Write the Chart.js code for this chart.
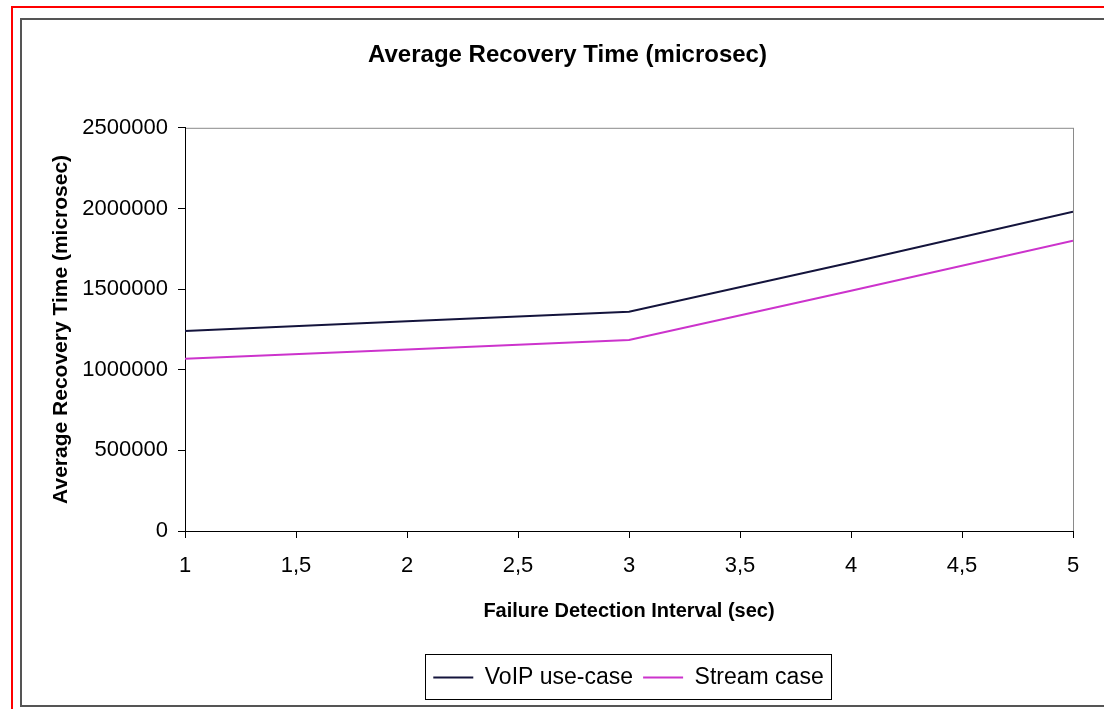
<!DOCTYPE html>
<html>
<head>
<meta charset="utf-8">
<title>Average Recovery Time</title>
<script src="https://cdn.jsdelivr.net/npm/chart.js@4/dist/chart.umd.min.js"></script>
<style>
    html, body { margin: 0; padding: 0; background: #fff; overflow: hidden; }
    #page { position: relative; width: 1104px; height: 709px; }
    #red-frame {
        position: absolute; left: 11px; top: 6px; width: 1110px; height: 720px;
        border: 2px solid #ff0000; box-sizing: border-box;
    }
    #chart-frame {
        position: absolute; left: 20px; top: 18px; width: 1110px; height: 689px;
        border: 2px solid #555; box-sizing: border-box;
    }
    #chart-wrap { position: absolute; left: 0; top: 0; width: 1104px; height: 709px; }
</style>
</head>
<body>
<div id="page">
    <div id="red-frame"></div>
    <div id="chart-frame"></div>
    <div id="chart-wrap"><canvas id="recovery-chart" width="1104" height="709"></canvas></div>
</div>
<script>
const intervals = [1, 2, 3, 4, 5];
const voipTimes = [1240000, 1300000, 1360000, 1665000, 1980000];
const streamTimes = [1068000, 1125000, 1185000, 1490000, 1800000];

const seriesLabels = ['VoIP use-case', 'Stream case'];
const chartTitle = 'Average Recovery Time (microsec)';
const xTitle = 'Failure Detection Interval (sec)';
const yTitle = 'Average Recovery Time (microsec)';

const fontFamily = '"Liberation Sans", Arial, sans-serif';

function toPoints(xs, ys) {
    return xs.map((x, i) => ({ x: x, y: ys[i] }));
}

// gray frame round the plot area, drawn before the axes so the black axis lines sit on top
const plotFrame = {
    id: 'plotFrame',
    beforeDraw(chart) {
        const { ctx, chartArea } = chart;
        ctx.save();
        ctx.strokeStyle = '#8a8a8a';
        ctx.lineWidth = 1;
        ctx.strokeRect(chartArea.left + 0.5, chartArea.top + 0.5,
            chartArea.right - chartArea.left, chartArea.bottom - chartArea.top);
        ctx.restore();
    }
};

// Excel centres title and legend a bit right of the canvas middle
const shiftBoxes = {
    id: 'shiftBoxes',
    afterLayout(chart) {
        if (chart.titleBlock) {
            chart.titleBlock.left += 16;
            chart.titleBlock.right += 16;
        }
        if (chart.legend) {
            chart.legend.left += 77;
            chart.legend.right += 77;
        }
    }
};

// box round the legend items, like the Excel legend
const legendBox = {
    id: 'legendBox',
    afterDraw(chart) {
        const boxes = chart.legend && chart.legend.legendHitBoxes;
        if (!boxes || !boxes.length) return;
        let left = Infinity, right = -Infinity, top = Infinity, bottom = -Infinity;
        boxes.forEach(b => {
            left = Math.min(left, b.left);
            right = Math.max(right, b.left + b.width);
            top = Math.min(top, b.top);
            bottom = Math.max(bottom, b.top + b.height);
        });
        const ctx = chart.ctx;
        ctx.save();
        ctx.strokeStyle = '#000';
        ctx.lineWidth = 1;
        ctx.strokeRect(Math.round(left - 8) + 0.5, Math.round(top - 12) + 0.5,
            Math.round(right - left + 16), Math.round(bottom - top + 22));
        ctx.restore();
    }
};

const ctx = document.getElementById('recovery-chart').getContext('2d');

new Chart(ctx, {
    type: 'line',
    data: {
        datasets: [
            {
                label: seriesLabels[0],
                data: toPoints(intervals, voipTimes),
                borderColor: '#14143c',
                backgroundColor: '#14143c',
                borderWidth: 2,
                pointRadius: 0,
                tension: 0,
                fill: false,
            },
            {
                label: seriesLabels[1],
                data: toPoints(intervals, streamTimes),
                borderColor: '#cc33cc',
                backgroundColor: '#cc33cc',
                borderWidth: 2,
                pointRadius: 0,
                tension: 0,
                fill: false,
            },
        ],
    },
    options: {
        responsive: false,
        animation: false,
        layout: {
            padding: { left: 30, right: 31, top: 0, bottom: 10 },
        },
        plugins: {
            title: {
                display: true,
                text: chartTitle,
                color: '#000',
                font: { family: fontFamily, size: 24, weight: 'bold' },
                padding: { top: 41, bottom: 58 },
            },
            legend: {
                position: 'bottom',
                labels: {
                    color: '#000',
                    font: { family: fontFamily, size: 23 },
                    usePointStyle: true,
                    pointStyle: 'line',
                    pointStyleWidth: 40,
                    padding: 10,
                },
            },
            tooltip: { enabled: false },
        },
        scales: {
            x: {
                type: 'linear',
                min: 1,
                max: 5,
                afterFit: scale => { scale.height = 125; },
                border: { display: true, color: '#000', width: 1 },
                grid: { drawOnChartArea: false, drawTicks: true, tickLength: 7, color: '#000' },
                ticks: {
                    stepSize: 0.5,
                    padding: 15,
                    color: '#000',
                    font: { family: fontFamily, size: 22 },
                    callback: v => String(v).replace('.', ','),
                },
                title: {
                    display: true,
                    text: xTitle,
                    color: '#000',
                    font: { family: fontFamily, size: 20, weight: 'bold' },
                    padding: { top: 0, bottom: 33 },
                },
            },
            y: {
                min: 0,
                max: 2500000,
                afterFit: scale => { scale.width = 155; },
                border: { display: true, color: '#000', width: 1 },
                grid: { drawOnChartArea: false, drawTicks: true, tickLength: 7, color: '#000' },
                ticks: {
                    stepSize: 500000,
                    padding: 10,
                    color: '#000',
                    font: { family: fontFamily, size: 22 },
                    callback: v => String(v),
                },
                title: {
                    display: true,
                    text: yTitle,
                    color: '#000',
                    font: { family: fontFamily, size: 21, weight: 'bold' },
                    padding: { top: 19, bottom: 0 },
                },
            },
        },
    },
    plugins: [plotFrame, shiftBoxes, legendBox],
});
</script>
</body>
</html>
